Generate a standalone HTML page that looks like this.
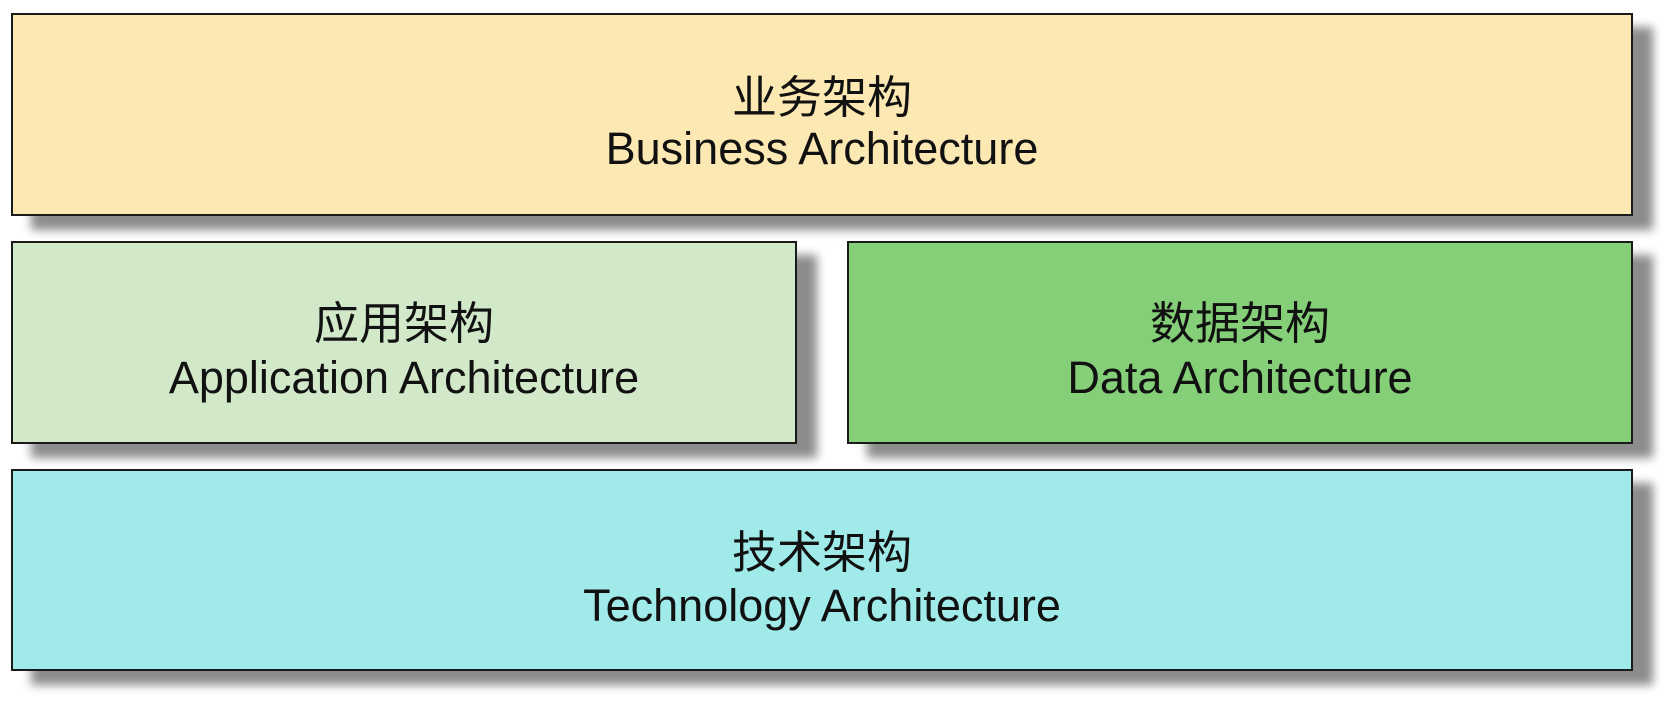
<!DOCTYPE html>
<html><head><meta charset="utf-8"><style>
html,body{margin:0;padding:0;background:#fff;width:1674px;height:704px;overflow:hidden;position:relative}
.b{position:absolute;box-sizing:border-box;border:2px solid #1a1a1a;box-shadow:20px 14px 9px rgba(0,0,0,0.45)}
.t{position:absolute;left:0;right:0;text-align:center;color:#111;line-height:1;white-space:nowrap}
.zh{font-family:"Noto Sans CJK SC","WenQuanYi Zen Hei",sans-serif;font-size:45px}
.en{font-family:"Liberation Sans",sans-serif;font-size:45px}
</style></head><body>
<div class="b" style="left:11px;top:13px;width:1622px;height:203px;background:#fbe8b2">
 <div class="t zh" style="top:56px">业务架构</div>
 <div class="t en" style="top:111px">Business Architecture</div>
</div>
<div class="b" style="left:11px;top:241px;width:786px;height:203px;background:#d1e8c9">
 <div class="t zh" style="top:54px">应用架构</div>
 <div class="t en" style="top:112px">Application Architecture</div>
</div>
<div class="b" style="left:847px;top:241px;width:786px;height:203px;background:#84cf78">
 <div class="t zh" style="top:54px">数据架构</div>
 <div class="t en" style="top:112px">Data Architecture</div>
</div>
<div class="b" style="left:11px;top:469px;width:1622px;height:202px;background:#a0eaea">
 <div class="t zh" style="top:55px">技术架构</div>
 <div class="t en" style="top:112px">Technology Architecture</div>
</div>
</body></html>
